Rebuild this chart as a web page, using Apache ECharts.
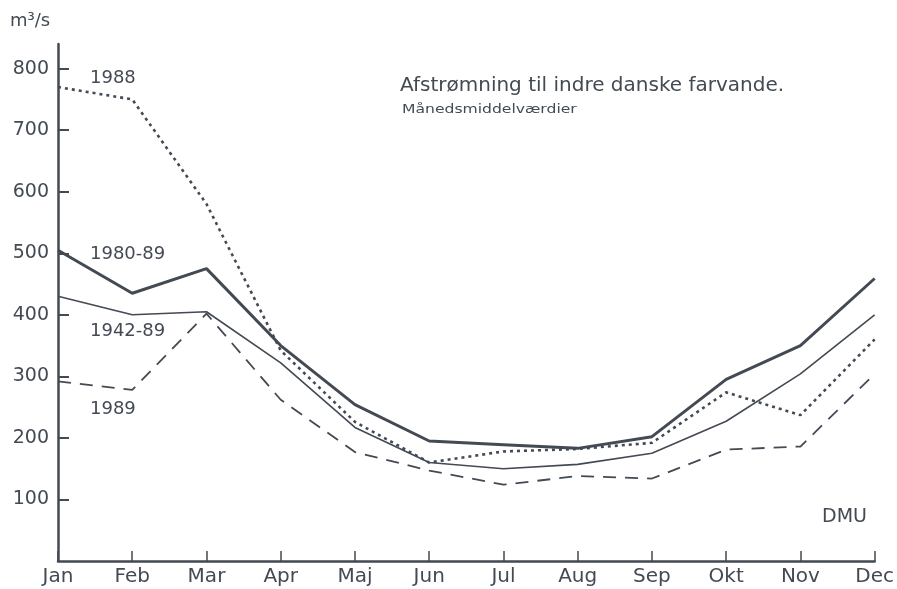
<!DOCTYPE html>
<html>
<head>
<meta charset="utf-8">
<script src="https://cdn.jsdelivr.net/npm/echarts@6/dist/echarts.min.js"></script>
<style>
html, body { margin: 0; padding: 0; background: #fff; }
#chart { width: 897px; height: 589px; }
</style>
</head>
<body>
<div id="chart"></div>
<script>
// data
var months = ['Jan', 'Feb', 'Mar', 'Apr', 'Maj', 'Jun', 'Jul', 'Aug', 'Sep', 'Okt', 'Nov', 'Dec'];
var avg_1980_89 = [505, 435, 475, 350, 254, 195, 189, 183, 202, 295, 350, 459];
var avg_1942_89 = [430, 400, 405, 322, 217, 160, 150, 157, 175, 227, 304, 400];
var year_1988 = [770, 750, 580, 342, 226, 160, 178, 182, 192, 274, 237, 360];
var year_1989 = [292, 278, 402, 262, 177, 147, 124, 138, 134, 181, 186, 304];
var y_ticks = [100, 200, 300, 400, 500, 600, 700, 800];

var ink = '#434a53';
var font = '"DejaVu Sans"';
var chart = echarts.init(document.getElementById('chart'));

function line(name, data, width, type) {
    return {
        name: name,
        type: 'line',
        data: data,
        symbol: 'none',
        silent: true,
        lineStyle: { color: ink, width: width, type: type }
    };
}

// text placed by its left edge and vertical centre
function label(text, x, y, size, sx) {
    return {
        type: 'text', x: x, y: y, scaleX: sx || 1,
        style: { text: text, fill: ink, font: size + 'px ' + font, verticalAlign: 'middle' }
    };
}

var options = {
    backgroundColor: '#fff',
    animation: false,
    grid: { left: 58, right: 22, top: 44, bottom: 28 },
    xAxis: {
        type: 'category',
        data: months,
        boundaryGap: false,
        axisLine: { lineStyle: { color: ink, width: 2.5 } },
        axisTick: { inside: true, length: 10, alignWithLabel: true, lineStyle: { color: ink, width: 1.5 } },
        axisLabel: { color: ink, fontSize: 20, fontFamily: 'DejaVu Sans', margin: 6 },
        splitLine: { show: false }
    },
    yAxis: {
        type: 'value',
        min: 0,
        max: 840,
        axisLine: { show: true, lineStyle: { color: ink, width: 2.5 } },
        axisTick: { show: true, inside: true, length: 11, customValues: y_ticks, lineStyle: { color: ink, width: 2 } },
        axisLabel: { color: ink, fontSize: 19, fontFamily: 'DejaVu Sans', margin: 9, customValues: y_ticks },
        splitLine: { show: false }
    },
    series: [
        line('1980-89', avg_1980_89, 3, 'solid'),
        line('1942-89', avg_1942_89, 1.6, 'solid'),
        line('1988', year_1988, 2.6, [3, 4]),
        line('1989', year_1989, 1.8, [13, 9])
    ],
    graphic: [
        label('m³/s', 10, 21, 18),
        label('1988', 90, 78, 18),
        label('1980-89', 90, 254, 18),
        label('1942-89', 90, 331, 18),
        label('1989', 90, 409, 18),
        label('Afstrømning til indre danske farvande.', 400, 86, 20),
        label('Månedsmiddelværdier', 402, 110, 13, 1.2),
        label('DMU', 822, 517, 19)
    ]
};

chart.setOption(options);
</script>
</body>
</html>
